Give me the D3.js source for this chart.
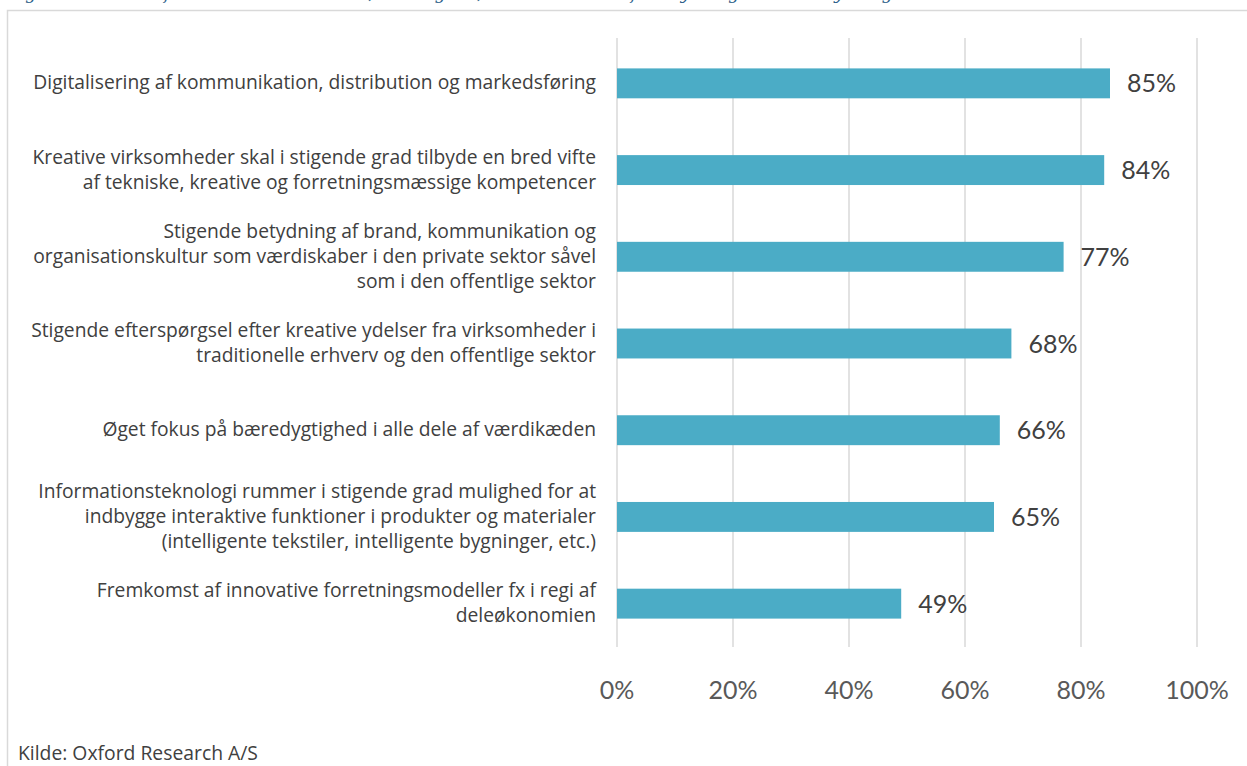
<!DOCTYPE html>
<html><head><meta charset="utf-8">
<script src="https://cdn.jsdelivr.net/npm/d3@7"></script>
<style>body{margin:0;background:#fff;} svg{display:block;}</style>
</head><body>
<svg id="c" width="1247" height="766"></svg>
<script>
const categories = [
  ["Digitalisering af kommunikation, distribution og markedsføring"],
  ["Kreative virksomheder skal i stigende grad tilbyde en bred vifte", "af tekniske, kreative og forretningsmæssige kompetencer"],
  ["Stigende betydning af brand, kommunikation og", "organisationskultur som værdiskaber i den private sektor såvel", "som i den offentlige sektor"],
  ["Stigende efterspørgsel efter kreative ydelser fra virksomheder i", "traditionelle erhverv og den offentlige sektor"],
  ["Øget fokus på bæredygtighed i alle dele af værdikæden"],
  ["Informationsteknologi rummer i stigende grad mulighed for at", "indbygge interaktive funktioner i produkter og materialer", "(intelligente tekstiler, intelligente bygninger, etc.)"],
  ["Fremkomst af innovative forretningsmodeller fx i regi af", "deleøkonomien"]
];
const values = [85, 84, 77, 68, 66, 65, 49];
const valueLabels = ["85%", "84%", "77%", "68%", "66%", "65%", "49%"];
const ticks = [0, 20, 40, 60, 80, 100];
const tickLabels = ["0%", "20%", "40%", "60%", "80%", "100%"];
const titleText = "Figur 3.4: Andel af kreative virksomheder, der angiver, at tendensen vil få betydning at stor betydning";
const sourceText = "Kilde: Oxford Research A/S";

const svg = d3.select("#c");
const font = "Lato, 'Open Sans', sans-serif";
const catFont = "'Open Sans', Lato, sans-serif";

// frame
svg.append("path").attr("d", "M7.5,766 V10.5 H1247").attr("fill", "none").attr("stroke", "#d9d9d9").attr("stroke-width", 1.5);

// clipped title (reference shows only its lower edge)
svg.append("text").attr("x", 8).attr("y", -1).attr("font-family", "Georgia, 'DejaVu Serif', serif")
  .attr("font-style", "italic").attr("font-size", 17).attr("fill", "#2e5f8a").text(titleText);

const x = d3.scaleLinear().domain([0, 100]).range([617, 1197]);
const idx = d3.range(values.length);
const y = d3.scaleBand().domain(idx).range([40, 647]).paddingInner(0.655).paddingOuter(0.3275);

// gridlines
svg.append("g").selectAll("line").data(ticks).join("line")
  .attr("x1", d => x(d)).attr("x2", d => x(d)).attr("y1", 38).attr("y2", 647)
  .attr("stroke", "#d9d9d9").attr("stroke-width", 1.5);

// bars
svg.append("g").selectAll("rect").data(idx).join("rect")
  .attr("x", x(0)).attr("y", i => y(i)).attr("width", i => x(values[i]) - x(0)).attr("height", y.bandwidth())
  .attr("fill", "#4bacc6");

// value labels
svg.append("g").selectAll("text").data(idx).join("text")
  .attr("x", i => x(values[i]) + 17).attr("y", i => y(i) + y.bandwidth() / 2 + 9)
  .attr("font-family", font).attr("font-size", 25).attr("fill", "#404040")
  .text(i => valueLabels[i]);

// category labels: size fitted so the widest line spans ~563px
function fitSize(text, target) {
  const probe = svg.append("text").attr("font-family", catFont).attr("font-size", 17).text(text);
  const w = probe.node().getComputedTextLength();
  probe.remove();
  return 17 * target / w;
}
const catSize = fitSize(categories[0][0], 563);
const lh = 25;
const cat = svg.append("g").selectAll("text").data(idx).join("text")
  .attr("text-anchor", "end").attr("font-family", catFont).attr("font-size", catSize).attr("fill", "#404040");
cat.each(function(i) {
  const lines = categories[i];
  const cy = y(i) + y.bandwidth() / 2;
  const t = d3.select(this);
  lines.forEach((l, k) => {
    t.append("tspan").attr("x", 596).attr("y", cy + 6 + (k - (lines.length - 1) / 2) * lh).text(l);
  });
});

// axis labels
svg.append("g").selectAll("text").data(ticks).join("text")
  .attr("x", d => x(d)).attr("y", 699).attr("text-anchor", "middle")
  .attr("font-family", font).attr("font-size", 25).attr("fill", "#595959")
  .text((d, i) => tickLabels[i]);

svg.append("text").attr("x", 18).attr("y", 760).attr("font-family", catFont).attr("font-size", fitSize(sourceText, 240))
  .attr("fill", "#404040").text(sourceText);
</script>
</body></html>
